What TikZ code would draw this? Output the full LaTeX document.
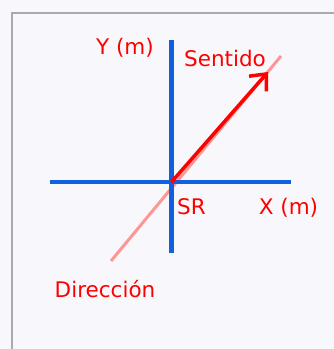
\documentclass[tikz,border=0pt]{standalone}
\usepackage{fontspec}
\setmainfont{DejaVu Sans}
\usetikzlibrary{arrows.meta}
\definecolor{bgc}{RGB}{248,248,252}
\definecolor{axisblue}{RGB}{16,96,224}
\definecolor{pinkline}{RGB}{255,150,150}
\definecolor{framegray}{RGB}{170,170,170}
\tikzset{
  lbl/.style={text=red, font=\fontsize{21.5}{22}\selectfont, inner sep=0pt},
  axis/.style={draw=axisblue, line width=4.5pt},
}
\begin{document}
\begin{tikzpicture}[x=1pt,y=-1pt]
\fill[bgc] (0,0) rectangle (334,349);
\useasboundingbox (0,0) rectangle (334,349);
\draw[framegray, line width=2pt] (12,352) -- (12,13) -- (337,13);
\coordinate (O) at (171.5,182);
\coordinate (xl) at (50,182);
\coordinate (xr) at (291,182);
\coordinate (yt) at (171.5,40);
\coordinate (yb) at (171.5,253);
\coordinate (dl) at (111,261);
\coordinate (dr) at (281,56);
\coordinate (tip) at (268,72);
\draw[pinkline, line width=3pt] (dl) -- (dr);
\draw[axis] (xl) -- (xr);
\draw[axis] (yt) -- (yb);
\draw[red, line width=3.5pt, -{Straight Barb[length=13pt,width=23pt,line width=3.5pt]}] (O) -- (tip);
\node[lbl] (ylab) at (125,48) {Y (m)};
\node[lbl] (sent) at (225,58) {Sentido};
\node[lbl] (sr) at (191.5,207) {SR};
\node[lbl] (xlab) at (288.5,208) {X (m)};
\node[lbl] (dir) at (105,289) {Dirección};
\end{tikzpicture}
\end{document}
